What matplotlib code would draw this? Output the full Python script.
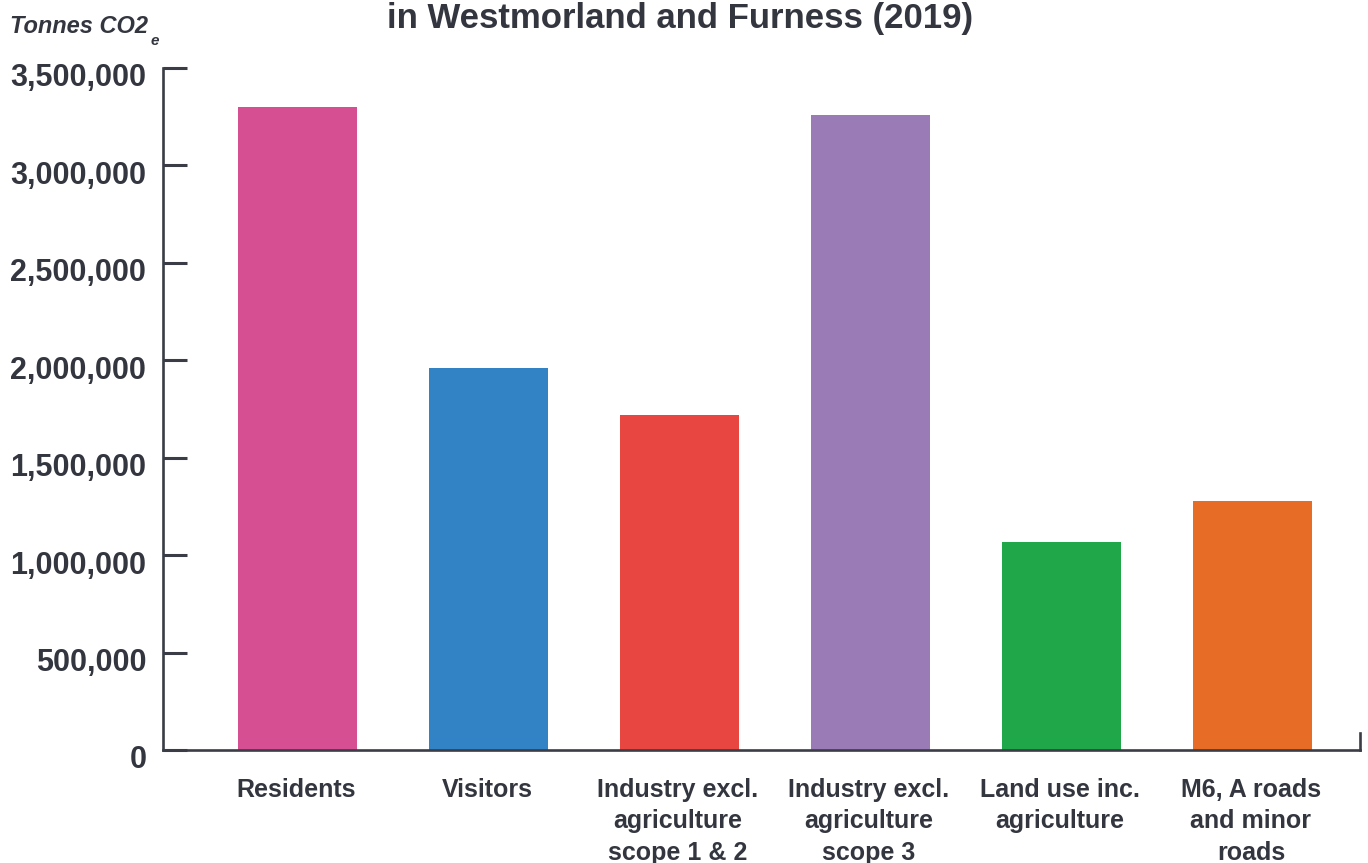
import matplotlib
matplotlib.use("Agg")
import matplotlib.pyplot as plt
import matplotlib.transforms as mtransforms
import numpy as np

categories = ["Residents", "Visitors", "Industry excl.\nagriculture\nscope 1 & 2",
              "Industry excl.\nagriculture\nscope 3", "Land use inc.\nagriculture",
              "M6, A roads\nand minor\nroads"]
values = [3300000, 1960000, 1720000, 3260000, 1070000, 1280000]
colors = ["#D64F93", "#3183C6", "#E84640", "#9A7BB5", "#1FA74A", "#E76D26"]
yticks = [0, 500000, 1000000, 1500000, 2000000, 2500000, 3000000, 3500000]
ytick_labels = ["0", "500,000", "1,000,000", "1,500,000", "2,000,000",
                "2,500,000", "3,000,000", "3,500,000"]
title = "in Westmorland and Furness (2019)"
unit_label = "Tonnes CO2"
unit_sub = "e"

TXT = "#33363F"
AX = "#3A3D45"
FONT = "Liberation Sans"

fig = plt.figure(figsize=(13.68, 8.63), dpi=100)
fig.patch.set_facecolor("white")
W, H = 1368, 863
ax = fig.add_axes([163 / W, 1 - 750 / H, (1360 - 163) / W, (750 - 68) / H])

x = np.arange(len(categories))
ax.bar(x + 0.008, values, width=0.623, color=colors, zorder=2)

ax.set_xlim(-0.696, 5.571)
ax.set_ylim(0, 3500000)

ax.spines["top"].set_visible(False)
for s in ["left", "bottom", "right"]:
    ax.spines[s].set_color(AX)
    ax.spines[s].set_linewidth(1.9)
ax.spines["right"].set_bounds(0, 87000)
ax.spines["bottom"].set_zorder(3)

ax.set_yticks(yticks)
ax.set_yticklabels(ytick_labels, fontfamily=FONT, fontweight="bold",
                   fontsize=22, color=TXT)
ax.tick_params(axis="y", direction="in", length=17, width=2.2, color=AX, pad=12)
offset = mtransforms.ScaledTranslation(0, -7 / 100, fig.dpi_scale_trans)
for lab in ax.get_yticklabels():
    lab.set_transform(lab.get_transform() + offset)

ax.set_xticks(x)
ax.set_xticklabels(categories, fontfamily=FONT, fontweight="bold",
                   fontsize=18, color=TXT, linespacing=1.4)
ax.tick_params(axis="x", length=0, pad=20)

fig.text(0.497, 1 - 28 / H, title, ha="center", va="baseline",
         fontfamily=FONT, fontweight="bold", fontsize=25, color=TXT)

t = fig.text(10 / W, 1 - 33 / H, unit_label, ha="left", va="baseline",
             fontfamily=FONT, fontweight="bold", fontstyle="italic",
             fontsize=17, color=TXT)
ax.annotate(unit_sub, xy=(1, 0), xycoords=t, xytext=(2, -5),
            textcoords="offset points", ha="left", va="baseline",
            fontfamily=FONT, fontweight="bold", fontstyle="italic",
            fontsize=11, color=TXT, annotation_clip=False)

fig.savefig("out.png", dpi=100)
